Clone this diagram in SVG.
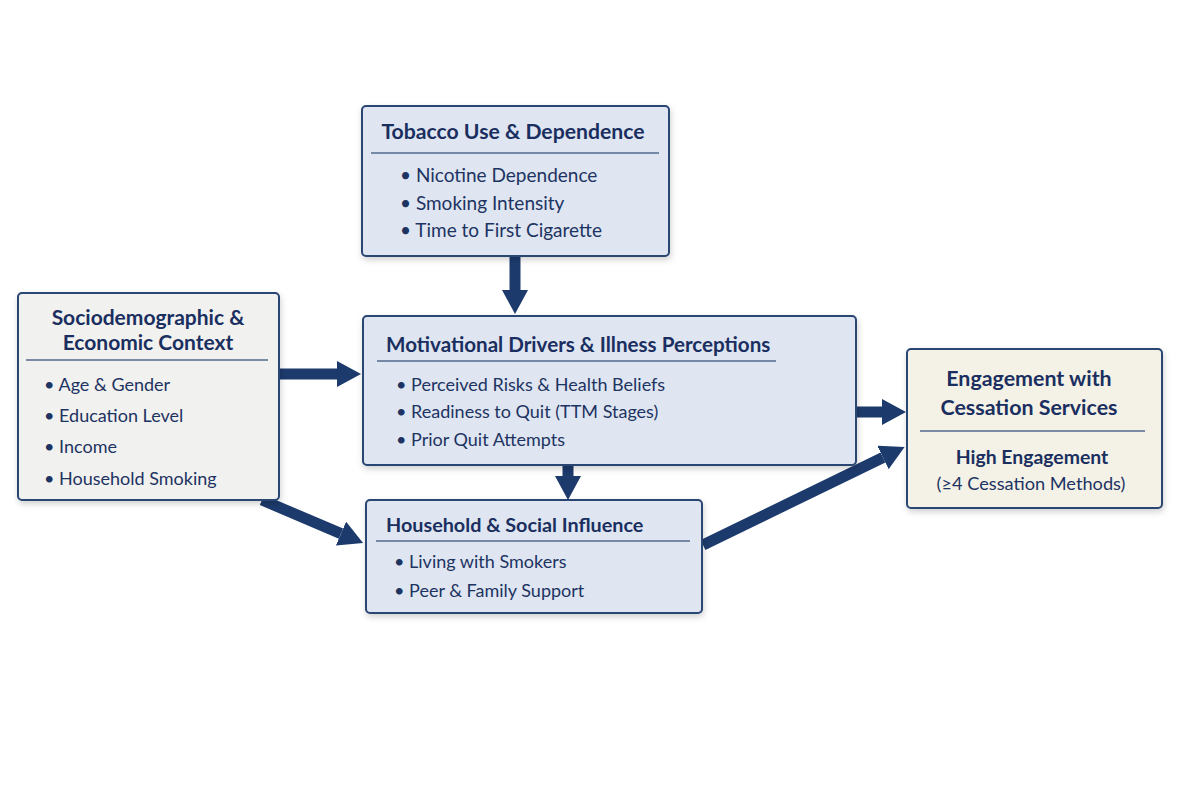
<svg xmlns="http://www.w3.org/2000/svg" width="1200" height="800" viewBox="0 0 1200 800">
<defs>
<filter id="sh" x="-10%" y="-10%" width="120%" height="130%">
<feDropShadow dx="1" dy="3" stdDeviation="3" flood-color="#000" flood-opacity="0.18"/>
</filter>
<marker id="ah" markerUnits="userSpaceOnUse" markerWidth="24" markerHeight="26" refX="0" refY="13" orient="auto" viewBox="0 0 24 26">
<path d="M0,0 L24,13 L0,26 z" fill="#1c3a6c"/>
</marker>
<style>
.box{stroke:#2a4673;stroke-width:2;}
.blue{fill:#dfe6f1;}
.grey{fill:#f1f1ef;}
.cream{fill:#f4f2e7;}
.sep{stroke:#52698d;stroke-width:1.3;}
.t{font-family:Lato,"Noto Sans",sans-serif;font-weight:700;font-size:19.8px;fill:#1a2f5f;}
.b{font-family:Lato,"Noto Sans",sans-serif;font-size:18px;fill:#1d3362;}
.c{stroke:#1c3a6c;stroke-width:11;fill:none;marker-end:url(#ah);}
</style>
</defs>
<rect width="1200" height="800" fill="#ffffff"/>

<g id="connectors">
<line class="c" x1="515" y1="256" x2="515" y2="290"/>
<line class="c" x1="279" y1="374" x2="337" y2="374"/>
<line class="c" x1="568" y1="465" x2="568" y2="476"/>
<line class="c" x1="262" y1="500" x2="341" y2="533.6"/>
<line class="c" x1="856" y1="412" x2="882" y2="412"/>
<line class="c" x1="703" y1="545" x2="883" y2="457.5"/>
</g>

<g id="tobacco">
<rect class="box blue" x="362" y="106" width="307" height="150" rx="4" filter="url(#sh)"/>
<text class="t" x="513" y="139" text-anchor="middle" style="font-size:21.2px">Tobacco Use &amp; Dependence</text>
<line class="sep" x1="371" y1="153" x2="659" y2="153"/>
<text class="b" x="400" y="182" style="font-size:19px">• Nicotine Dependence</text>
<text class="b" x="400" y="210" style="font-size:19px">• Smoking Intensity</text>
<text class="b" x="400" y="237" style="font-size:19px">• Time to First Cigarette</text>
</g>

<g id="socio">
<rect class="box grey" x="18" y="293" width="261" height="207" rx="4" filter="url(#sh)"/>
<text class="t" x="148" y="325" text-anchor="middle" style="font-size:21px">Sociodemographic &amp;</text>
<text class="t" x="148" y="350" text-anchor="middle" style="font-size:21px">Economic Context</text>
<line class="sep" x1="26" y1="360" x2="268" y2="360"/>
<text class="b" x="44" y="391">• Age &amp; Gender</text>
<text class="b" x="44" y="422">• Education Level</text>
<text class="b" x="44" y="453">• Income</text>
<text class="b" x="44" y="485">• Household Smoking</text>
</g>

<g id="motivational">
<rect class="box blue" x="363" y="316" width="493" height="149" rx="4" filter="url(#sh)"/>
<text class="t" x="386" y="352" style="font-size:20.6px">Motivational Drivers &amp; Illness Perceptions</text>
<line class="sep" x1="377" y1="361" x2="776" y2="361"/>
<text class="b" x="396" y="391">• Perceived Risks &amp; Health Beliefs</text>
<text class="b" x="396" y="418">• Readiness to Quit (TTM Stages)</text>
<text class="b" x="396" y="446">• Prior Quit Attempts</text>
</g>

<g id="household">
<rect class="box blue" x="366" y="500" width="336" height="113" rx="4" filter="url(#sh)"/>
<text class="t" x="386" y="532">Household &amp; Social Influence</text>
<line class="sep" x1="376" y1="541" x2="690" y2="541"/>
<text class="b" x="394" y="568">• Living with Smokers</text>
<text class="b" x="394" y="597">• Peer &amp; Family Support</text>
</g>

<g id="engagement">
<rect class="box cream" x="907" y="349" width="255" height="159" rx="4" filter="url(#sh)"/>
<text class="t" x="1029" y="386" text-anchor="middle" style="font-size:21.4px">Engagement with</text>
<text class="t" x="1029" y="415" text-anchor="middle" style="font-size:21.4px">Cessation Services</text>
<line class="sep" x1="920" y1="431" x2="1145" y2="431"/>
<text class="t" x="1032" y="464" text-anchor="middle" style="font-size:19.4px">High Engagement</text>
<text class="b" x="1031" y="490" text-anchor="middle" style="font-size:18.2px">(≥4 Cessation Methods)</text>
</g>
</svg>
